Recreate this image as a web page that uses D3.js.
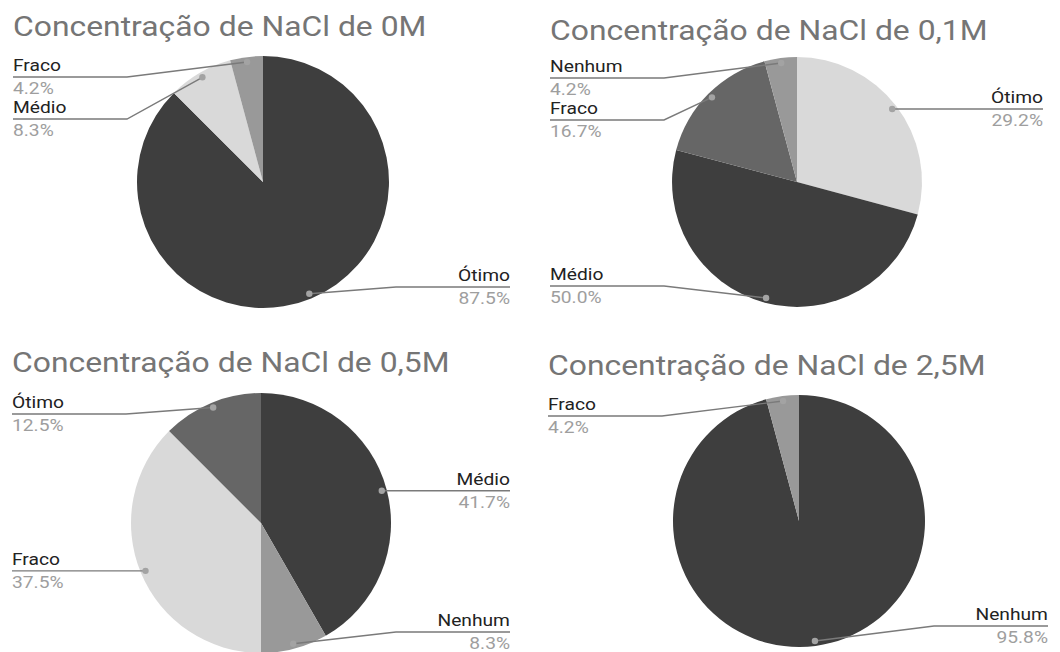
<!DOCTYPE html>
<html>
<head>
<meta charset="utf-8">
<script src="https://cdn.jsdelivr.net/npm/d3@7"></script>
<style>
  body { margin: 0; background: #fff; }
  svg { display: block; font-family: Roboto, "Liberation Sans", sans-serif; }
  .title { fill: #757575; font-size: 27px; }
  .lbl { fill: #222; font-size: 17px; }
  .pct { fill: #9e9e9e; font-size: 17px; }
  .leader { stroke: #7a7a7a; stroke-width: 1.4; fill: none; }
  .dot { fill: #a3a3a3; }
</style>
</head>
<body>
<svg width="1060" height="652"></svg>
<script>
// titles of the four panels
const titles = [
  "Concentração de NaCl de 0M",
  "Concentração de NaCl de 0,1M",
  "Concentração de NaCl de 0,5M",
  "Concentração de NaCl de 2,5M"
];

// categories (clockwise from 12 o'clock) and percentages per panel
const cats_0M  = ["Ótimo", "Médio", "Fraco"];
const vals_0M  = [87.5, 8.3, 4.2];

const cats_01M = ["Ótimo", "Médio", "Fraco", "Nenhum"];
const vals_01M = [29.2, 50.0, 16.7, 4.2];

const cats_05M = ["Médio", "Nenhum", "Fraco", "Ótimo"];
const vals_05M = [41.7, 8.3, 37.5, 12.5];

const cats_25M = ["Nenhum", "Fraco"];
const vals_25M = [95.8, 4.2];

const all_cats = [cats_0M, cats_01M, cats_05M, cats_25M];
const all_vals = [vals_0M, vals_01M, vals_05M, vals_25M];

// slice fills per panel (greyscale, in slice order)
const fills = [
  ["#3e3e3e", "#d9d9d9", "#999999"],
  ["#d9d9d9", "#3e3e3e", "#666666", "#999999"],
  ["#3e3e3e", "#999999", "#d9d9d9", "#666666"],
  ["#3e3e3e", "#999999"]
];

// panel geometry
const panels = [
  { tx: 13,  ty: 36,  cx: 263, cy: 182, r: 126, left: 13,  right: 510 },
  { tx: 550, ty: 40,  cx: 797, cy: 182, r: 125, left: 550, right: 1043 },
  { tx: 12,  ty: 372, cx: 261, cy: 523, r: 130, left: 12,  right: 510 },
  { tx: 548, ty: 375, cx: 799, cy: 521, r: 126, left: 548, right: 1048 }
];

const svg = d3.select("svg");
const blockH = 42;   // label + value height
const armLen = 114;  // horizontal part of leader

// the source text is drawn a bit wider than the installed fonts
function widen (sel, k) {
  sel.each(function () {
    const w = this.getComputedTextLength();
    d3.select(this)
      .attr("textLength", w * k)
      .attr("lengthAdjust", "spacingAndGlyphs");
  });
}

panels.forEach((p, i) => {
  const cats = all_cats[i];
  const vals = all_vals[i];
  const color = d3.scaleOrdinal().domain(cats).range(fills[i]);

  svg.append("text")
    .attr("class", "title")
    .attr("x", p.tx)
    .attr("y", p.ty)
    .text(titles[i])
    .call(widen, 1.18);

  const pie = d3.pie().sort(null).value(d => d.v);
  const data = cats.map((c, k) => ({ c: c, v: vals[k] }));
  const arcs = pie(data);

  const arc = d3.arc().innerRadius(0).outerRadius(p.r);
  const g = svg.append("g").attr("transform", `translate(${p.cx},${p.cy})`);

  g.selectAll("path")
    .data(arcs)
    .enter()
    .append("path")
    .attr("d", arc)
    .attr("fill", d => color(d.data.c));

  // leader anchor points (slightly inside the rim)
  const rDot = p.r - 5;
  let labels = arcs.map(a => {
    const m = (a.startAngle + a.endAngle) / 2;
    const dx = Math.sin(m) * rDot, dy = -Math.cos(m) * rDot;
    return { a: a, x: p.cx + dx, y: p.cy + dy, side: dx >= 0 ? "right" : "left" };
  });

  const yMin = p.cy - p.r + 21, yMax = p.cy + p.r - 21;
  ["left", "right"].forEach(side => {
    const s = labels.filter(l => l.side == side).sort((a, b) => a.y - b.y);
    s.forEach((l, k) => {
      l.ly = Math.max(yMin, Math.min(yMax, l.y));
      if (k > 0 && l.ly < s[k - 1].ly + blockH) l.ly = s[k - 1].ly + blockH;
    });
    for (let k = s.length - 1; k >= 0; k--) {
      if (k == s.length - 1) { if (s[k].ly > yMax) s[k].ly = yMax; }
      else if (s[k].ly > s[k + 1].ly - blockH) s[k].ly = s[k + 1].ly - blockH;
    }
  });

  labels.forEach(l => {
    const isLeft = l.side == "left";
    const x0 = isLeft ? p.left : p.right;
    const x1 = isLeft ? p.left + armLen : p.right - armLen;
    svg.append("path")
      .attr("class", "leader")
      .attr("d", d3.line()([[x0, l.ly], [x1, l.ly], [l.x, l.y]]));
    svg.append("circle")
      .attr("class", "dot")
      .attr("cx", l.x)
      .attr("cy", l.y)
      .attr("r", 3.2);
    svg.append("text")
      .attr("class", "lbl")
      .attr("x", x0)
      .attr("y", l.ly - 6)
      .attr("text-anchor", isLeft ? "start" : "end")
      .text(l.a.data.c)
      .call(widen, 1.13);
    svg.append("text")
      .attr("class", "pct")
      .attr("x", x0)
      .attr("y", l.ly + 17)
      .attr("text-anchor", isLeft ? "start" : "end")
      .text(l.a.data.v.toFixed(1) + "%")
      .call(widen, 1.13);
  });
});
</script>
</body>
</html>
